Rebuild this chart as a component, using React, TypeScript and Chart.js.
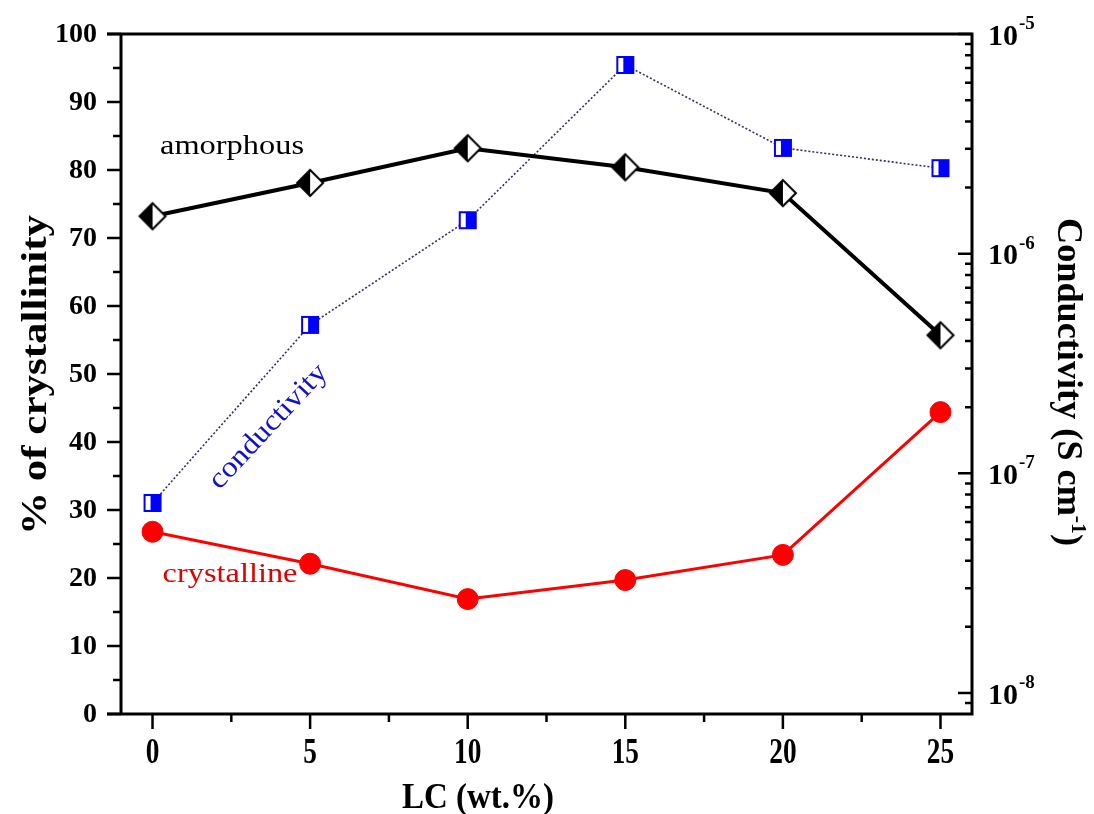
import React, { useEffect, useRef } from "react";
import { Chart, registerables } from "chart.js";

Chart.register(...registerables);

// ---------- data ----------
const lcValues = [0, 5, 10, 15, 20, 25];
const amorphous = [73.2, 78.1, 83.2, 80.4, 76.6, 55.7];
const crystalline = [26.8, 22.1, 16.9, 19.7, 23.4, 44.4];
const conductivity = [7.33e-8, 4.74e-7, 1.42e-6, 7.23e-6, 3.03e-6, 2.45e-6];

const xTickValues = [0, 5, 10, 15, 20, 25];
const xMinorValues = [2.5, 7.5, 12.5, 17.5, 22.5];
const leftTickValues = [0, 10, 20, 30, 40, 50, 60, 70, 80, 90, 100];
const leftMinorValues = [5, 15, 25, 35, 45, 55, 65, 75, 85, 95];
const rightTickValues = [1e-8, 1e-7, 1e-6, 1e-5];
const rightTickExponents = ["-8", "-7", "-6", "-5"];

const SERIF = '"Liberation Serif", "Times New Roman", serif';

function makeDiamond(): HTMLCanvasElement {
  const c = document.createElement("canvas");
  c.width = 32;
  c.height = 32;
  const g = c.getContext("2d")!;
  const m = 16, h = 13;
  g.fillStyle = "#ffffff";
  g.beginPath();
  g.moveTo(m, m - h); g.lineTo(m + h, m); g.lineTo(m, m + h); g.closePath();
  g.fill();
  g.fillStyle = "#000000";
  g.beginPath();
  g.moveTo(m, m - h); g.lineTo(m - h, m); g.lineTo(m, m + h); g.closePath();
  g.fill();
  g.strokeStyle = "#000000";
  g.lineWidth = 2;
  g.beginPath();
  g.moveTo(m, m - h); g.lineTo(m + h, m); g.lineTo(m, m + h); g.lineTo(m - h, m); g.closePath();
  g.stroke();
  return c;
}

function makeSquare(): HTMLCanvasElement {
  const c = document.createElement("canvas");
  c.width = 20;
  c.height = 20;
  const g = c.getContext("2d")!;
  g.fillStyle = "#ffffff";
  g.fillRect(1, 1, 18, 18);
  g.fillStyle = "#0000ff";
  g.fillRect(8, 1, 11, 18);
  g.strokeStyle = "#0000ff";
  g.lineWidth = 2;
  g.strokeRect(2, 2, 16, 16);
  return c;
}

type Run = { text: string; size: number; dy?: number };

function drawRuns(
  ctx: CanvasRenderingContext2D,
  runs: Run[],
  cx: number,
  cy: number,
  angle: number,
  color: string,
  weight: string,
  targetLen?: number
) {
  ctx.save();
  ctx.translate(cx, cy);
  ctx.rotate(angle);
  const widths = runs.map((r) => {
    ctx.font = `${weight} ${r.size}px ${SERIF}`;
    return ctx.measureText(r.text).width;
  });
  const total = widths.reduce((a, b) => a + b, 0);
  const sx = targetLen ? targetLen / total : 1;
  ctx.scale(sx, 1);
  ctx.fillStyle = color;
  ctx.textAlign = "left";
  ctx.textBaseline = "alphabetic";
  let x = -total / 2;
  runs.forEach((r, i) => {
    ctx.font = `${weight} ${r.size}px ${SERIF}`;
    ctx.fillText(r.text, x, r.dy || 0);
    x += widths[i];
  });
  ctx.restore();
}

const axesPlugin = {
  id: "customAxes",
  afterDatasetsDraw(chart: any) {
    const ctx: CanvasRenderingContext2D = chart.ctx;
    const { left, right, top, bottom } = chart.chartArea;
    const xs = chart.scales.x;
    const ys = chart.scales.y;
    const y2 = chart.scales.y2;
    ctx.save();
    ctx.strokeStyle = "#000";
    ctx.lineCap = "butt";

    // frame
    ctx.lineWidth = 3;
    ctx.beginPath();
    ctx.moveTo(left - 14, top); ctx.lineTo(right + 1.5, top);
    ctx.moveTo(left - 14, bottom); ctx.lineTo(right + 1.5, bottom);
    ctx.moveTo(left, top); ctx.lineTo(left, bottom);
    ctx.moveTo(right, top - 1.5); ctx.lineTo(right, bottom + 1.5);
    ctx.stroke();

    ctx.lineWidth = 2.5;
    ctx.beginPath();
    leftTickValues.forEach((v) => {
      const p = ys.getPixelForValue(v);
      ctx.moveTo(left, p); ctx.lineTo(left - 14, p);
    });
    leftMinorValues.forEach((v) => {
      const p = ys.getPixelForValue(v);
      ctx.moveTo(left, p); ctx.lineTo(left - 8, p);
    });
    xTickValues.forEach((v) => {
      const p = xs.getPixelForValue(v);
      ctx.moveTo(p, bottom); ctx.lineTo(p, bottom + 15);
    });
    xMinorValues.forEach((v) => {
      const p = xs.getPixelForValue(v);
      ctx.moveTo(p, bottom); ctx.lineTo(p, bottom + 8);
    });
    for (let e = -9; e <= -5; e++) {
      for (let m = 1; m <= 9; m++) {
        const v = m * Math.pow(10, e);
        if (v < y2.min * 0.999 || v > y2.max * 1.001) continue;
        const p = y2.getPixelForValue(v);
        const len = m === 1 ? 14 : 7;
        ctx.moveTo(right, p); ctx.lineTo(right - len, p);
      }
    }
    ctx.stroke();

    // left tick labels
    ctx.fillStyle = "#000";
    ctx.font = `bold 28px ${SERIF}`;
    ctx.textAlign = "right";
    ctx.textBaseline = "middle";
    leftTickValues.forEach((v) => {
      ctx.fillText(String(v), left - 24, ys.getPixelForValue(v) + 1);
    });
    // bottom tick labels (condensed)
    xTickValues.forEach((v) => {
      ctx.save();
      ctx.translate(xs.getPixelForValue(v), bottom + 40);
      ctx.scale(0.78, 1);
      ctx.font = `bold 35px ${SERIF}`;
      ctx.textAlign = "center";
      ctx.textBaseline = "middle";
      ctx.fillText(String(v), 0, 0);
      ctx.restore();
    });
    // right tick labels (10^n)
    rightTickValues.forEach((v, i) => {
      const p = y2.getPixelForValue(v);
      ctx.font = `bold 30px ${SERIF}`;
      ctx.textAlign = "left";
      ctx.textBaseline = "middle";
      ctx.fillText("10", right + 16, p + 3);
      const w = ctx.measureText("10").width;
      ctx.font = `bold 19px ${SERIF}`;
      ctx.fillText(rightTickExponents[i], right + 17 + w, p - 10);
    });
    ctx.restore();

    // axis titles
    drawRuns(ctx, [{ text: "% of crystallinity", size: 36 }], 46, 375, -Math.PI / 2, "#000", "bold", 320);
    drawRuns(ctx, [{ text: "LC (wt.%)", size: 36 }], 478, 808, 0, "#000", "bold", 152);
    drawRuns(
      ctx,
      [
        { text: "Conductivity (S cm", size: 35 },
        { text: "-1", size: 21, dy: -14 },
        { text: ")", size: 35 },
      ],
      1058,
      382,
      Math.PI / 2,
      "#000",
      "bold",
      328
    );

    // annotations
    drawRuns(ctx, [{ text: "amorphous", size: 27 }], 232, 154, 0, "#000", "normal", 144);
    drawRuns(ctx, [{ text: "crystalline", size: 28 }], 230, 582, 0, "#e00000", "normal", 135);
    drawRuns(ctx, [{ text: "conductivity", size: 29 }], 274, 432, (-47 * Math.PI) / 180, "#1010d0", "normal", 160);
  },
};

export default function App() {
  const ref = useRef<HTMLCanvasElement | null>(null);
  useEffect(() => {
    if (!ref.current) return;
    const diamond = makeDiamond();
    const square = makeSquare();
    const chart = new Chart(ref.current, {
      type: "line",
      data: {
        datasets: [
          {
            label: "amorphous",
            data: lcValues.map((x, i) => ({ x, y: amorphous[i] })),
            yAxisID: "y",
            borderColor: "#000000",
            borderWidth: 4,
            pointStyle: diamond as any,
            pointRadius: 14,
            pointHoverRadius: 14,
            tension: 0,
          },
          {
            label: "crystalline",
            data: lcValues.map((x, i) => ({ x, y: crystalline[i] })),
            yAxisID: "y",
            borderColor: "#ff0000",
            backgroundColor: "#ff0000",
            borderWidth: 3,
            pointStyle: "circle",
            pointRadius: 10.5,
            pointBorderWidth: 1,
            pointBorderColor: "#ff0000",
            pointBackgroundColor: "#ff0000",
            tension: 0,
          },
          {
            label: "conductivity",
            data: lcValues.map((x, i) => ({ x, y: conductivity[i] })),
            yAxisID: "y2",
            borderColor: "#30306a",
            borderWidth: 1.6,
            borderDash: [2, 2],
            pointStyle: square as any,
            pointRadius: 10,
            tension: 0,
          },
        ],
      },
      options: {
        responsive: false,
        devicePixelRatio: 1,
        animation: false,
        events: [],
        layout: { padding: { top: 34, left: 0, right: 0, bottom: 0 } },
        plugins: { legend: { display: false }, tooltip: { enabled: false } },
        scales: {
          x: {
            type: "linear",
            position: "bottom",
            min: -1,
            max: 26,
            ticks: { display: false },
            grid: { display: false },
            border: { display: false },
            afterBuildTicks: (s: any) => {
              s.ticks = xTickValues.map((v) => ({ value: v }));
            },
            afterFit: (s: any) => {
              s.height = 100;
            },
          },
          y: {
            type: "linear",
            position: "left",
            min: 0,
            max: 100,
            ticks: { display: false },
            grid: { display: false },
            border: { display: false },
            afterBuildTicks: (s: any) => {
              s.ticks = leftTickValues.map((v) => ({ value: v }));
            },
            afterFit: (s: any) => {
              s.width = 121;
            },
          },
          y2: {
            type: "logarithmic",
            position: "right",
            min: Math.pow(10, -8.0956),
            max: 1e-5,
            ticks: { display: false },
            grid: { display: false },
            border: { display: false },
            afterBuildTicks: (s: any) => {
              s.ticks = rightTickValues.map((v) => ({ value: v }));
            },
            afterFit: (s: any) => {
              s.width = 122;
            },
          },
        },
      },
      plugins: [axesPlugin],
    });
    return () => chart.destroy();
  }, []);

  return (
    <div style={{ position: "fixed", left: 0, top: 0, width: 1094, height: 814, background: "#ffffff" }}>
      <canvas ref={ref} width={1094} height={814} style={{ display: "block", width: 1094, height: 814 }} />
    </div>
  );
}
